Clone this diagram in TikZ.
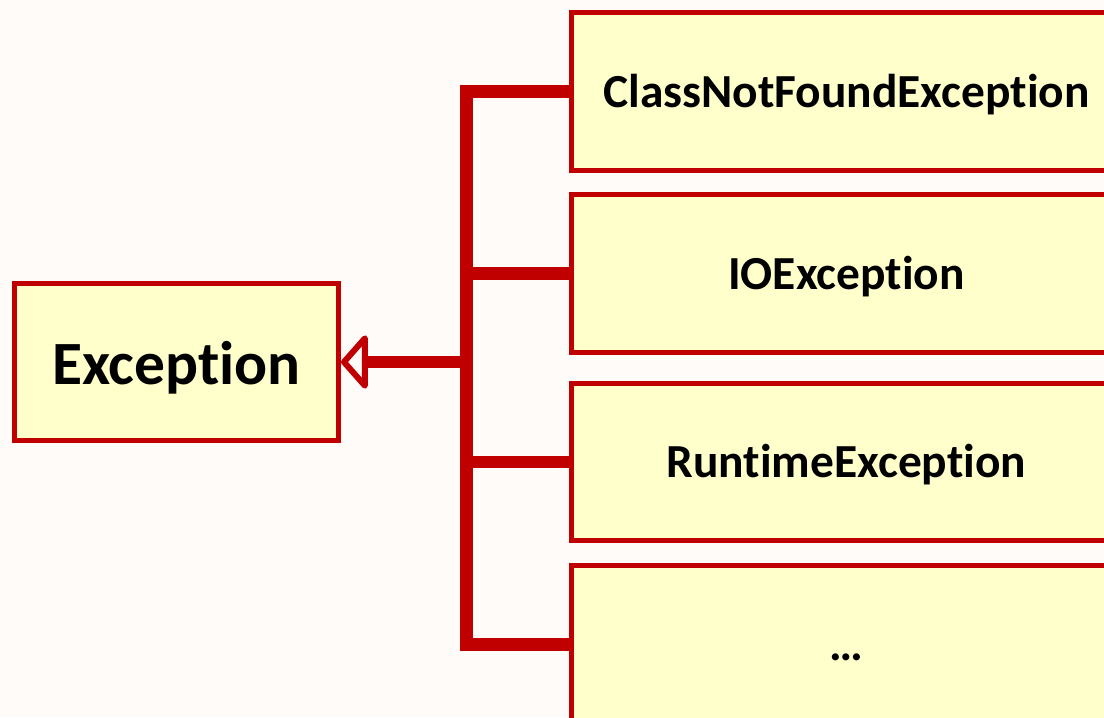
\documentclass[tikz,border=0pt]{standalone}
\usepackage{fontspec}
\setmainfont{Carlito}[Ligatures=NoCommon]
\usetikzlibrary{arrows.meta,positioning}
\definecolor{bar}{HTML}{C00000}
\definecolor{cream}{HTML}{FFFFCC}
\definecolor{paper}{HTML}{FFFBF8}

\begin{document}
\begin{tikzpicture}[x=0.02cm,y=0.02cm,
    cls/.style={draw=bar,fill=cream,line width=0.1cm,inner sep=0pt,
      font=\bfseries\fontsize{27}{30}\selectfont,
      minimum width=11.02cm,minimum height=3.16cm,
      text height=18pt,text depth=0pt,anchor=north west},
    link/.style={bar,line width=0.25cm}]
  \fill[paper] (0,0) rectangle (1104,-717);
  \useasboundingbox (0,0) rectangle (1104,-717);

  % base class
  \node[cls,anchor=center,font=\bfseries\fontsize{35}{40}\selectfont,
    minimum width=6.48cm,minimum height=3.14cm,text height=26pt]
    (exc) at (176.5,-362) {Exception};

  % subclasses, running off the right edge
  \node[cls] (cnf)  at (568.5,-10)    {ClassNotFoundException};
  \node[cls] (ioe)  at (568.5,-192)   {IOException};
  \node[cls] (rte)  at (568.5,-380.5) {RuntimeException};
  \node[cls] (more) at (568.5,-563)   {…};

  \coordinate (hub) at (466.5,-362);
  \draw[link] (cnf.west) -- (cnf.west -| hub) -- (more.west -| hub) -- (more.west);
  \draw[link] (ioe.west -| hub) -- (ioe.west);
  \draw[link] (rte.west -| hub) -- (rte.west);
  \draw[link,-{Triangle[open,round,length=0.56cm,width=1.24cm,line width=0.12cm]}]
    (hub) -- (exc.east);
\end{tikzpicture}
\end{document}
